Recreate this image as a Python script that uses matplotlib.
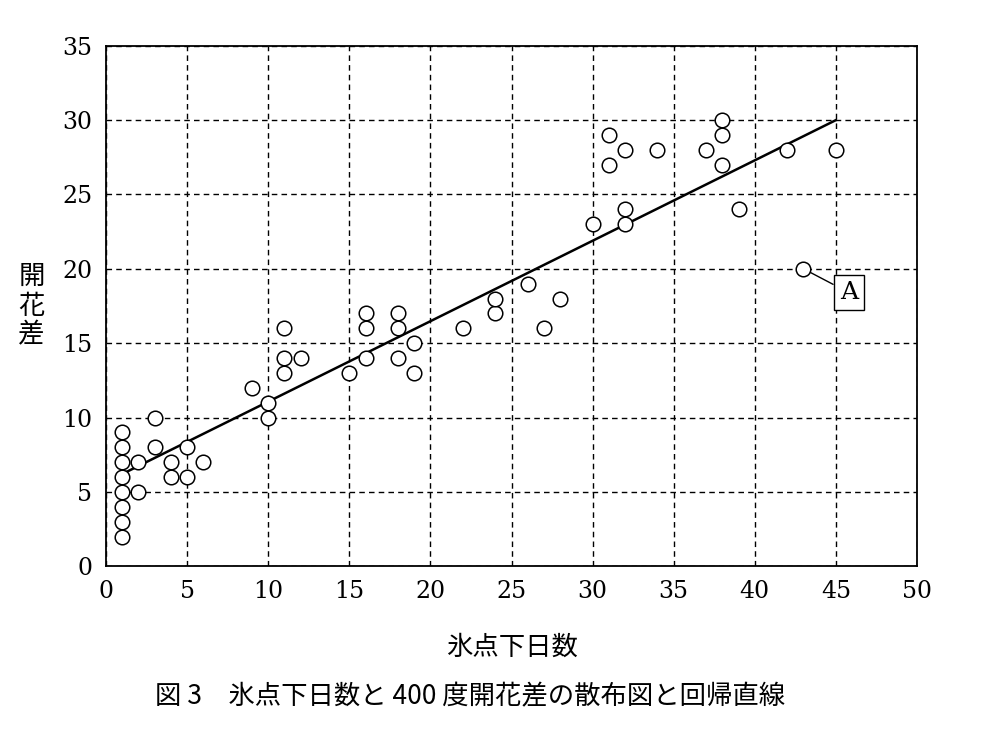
import matplotlib.pyplot as plt
import numpy as np

plt.rcParams['font.family'] = ['Noto Sans CJK JP', 'DejaVu Sans']

days = [1, 1, 1, 1, 1, 1, 1, 1, 2, 2, 3, 3, 4, 4, 5, 5, 6, 9, 10, 10, 11, 11, 11, 12,
        15, 16, 16, 16, 18, 18, 18, 19, 19, 22, 24, 24, 26, 27, 28, 30, 31, 31,
        32, 32, 32, 34, 37, 38, 38, 38, 39, 42, 43, 45]
diff = [2, 3, 4, 5, 6, 7, 8, 9, 5, 7, 8, 10, 6, 7, 6, 8, 7, 12, 10, 11, 13, 14, 16, 14,
        13, 14, 16, 17, 14, 16, 17, 13, 15, 16, 17, 18, 19, 16, 18, 23, 27, 29,
        23, 24, 28, 28, 28, 27, 29, 30, 24, 28, 20, 28]
line_x = [1, 45]
line_y = [6.2, 30]

fig = plt.figure(figsize=(10, 7.5), dpi=100)
ax = fig.add_axes([0.106, 0.245, 0.811, 0.694])

ax.grid(True, linestyle=(0, (4, 3)), color='black', linewidth=1)
ax.set_axisbelow(True)
ax.plot(line_x, line_y, color='black', linewidth=1.8, zorder=3)
ax.scatter(days, diff, s=110, facecolors='white', edgecolors='black', linewidths=1.1, zorder=4)

ax.annotate('A', xy=(43, 20), xytext=(45.8, 18.4), fontsize=18, family='DejaVu Serif',
            ha='center', va='center',
            bbox=dict(boxstyle='square,pad=0.25', fc='white', ec='black', lw=1),
            arrowprops=dict(arrowstyle='-', color='black', lw=1, shrinkA=0, shrinkB=5))

ax.set_xlim(0, 50)
ax.set_ylim(0, 35)
ax.set_xticks(np.arange(0, 51, 5))
ax.set_yticks(np.arange(0, 36, 5))
ax.tick_params(length=0, labelsize=17, pad=10)
for lbl in ax.get_xticklabels() + ax.get_yticklabels():
    lbl.set_family('DejaVu Serif')
for s in ax.spines.values():
    s.set_linewidth(1.3)

ax.set_xlabel('氷点下日数', fontsize=19, labelpad=22)
ax.set_ylabel('開\n花\n差', fontsize=19, rotation=0, va='center', labelpad=22,
              linespacing=1.1)
fig.text(0.47, 0.071, '図 3　氷点下日数と 400 度開花差の散布図と回帰直線',
         fontsize=19, ha='center', va='center')

fig.savefig('out.png')
